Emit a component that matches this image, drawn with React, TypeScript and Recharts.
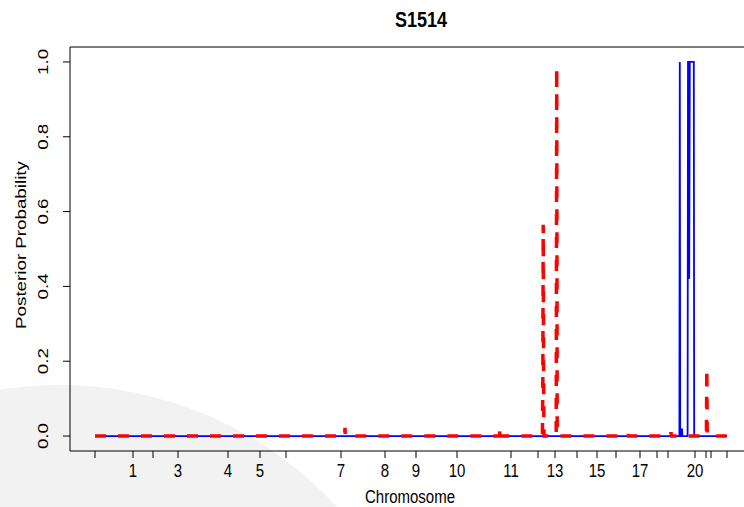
import { LineChart, Line, XAxis, YAxis, ReferenceLine } from 'recharts';

// genome index (1 unit ~ 1 px of the original plot)
const bluePos = [0, 584.4, 584.8, 585.2, 586.6, 587, 587.4, 592.6, 593, 593.8, 594.2, 594.8, 598.8, 599.2, 632];
const blueVal = [0, 0, 1, 0, 0, 0.02, 0, 0, 1, 1, 0.42, 1, 1, 0, 0];

const redPos = [
  0, 249.6, 250, 250.4, 404.6, 405, 405.4, 447.4, 447.8, 448.2, 448.6, 449,
  461.2, 461.7, 462.2, 532.6, 533, 533.4, 575.6, 576, 576.4, 611.4, 611.8, 612.2, 632,
];
const redVal = [
  0, 0, 0.022, 0, 0, 0.025, 0, 0, 0.135, 0.565, 0.14, 0,
  0, 0.985, 0, 0, 0.005, 0, 0, 0.01, 0, 0, 0.18, 0, 0,
];

const xTicks = [0, 38, 58, 83, 133, 165, 191, 246, 290, 321, 362, 416, 443, 460, 482, 502, 521, 545, 562, 573, 600, 611, 616, 632];
const xTickLabels = ['', '1', '', '3', '4', '5', '', '7', '8', '9', '10', '11', '', '13', '', '15', '', '17', '', '', '20', '', '', ''];
const yTicks = [0, 0.2, 0.4, 0.6, 0.8, 1.0];

const FONT = 'Liberation Sans, Arial, Helvetica, sans-serif';
// the source image is stretched vertically, text included
const STRETCH = 1.25;

const blueData = bluePos.map((x, i) => ({ x, v: blueVal[i] }));
const redData = redPos.map((x, i) => ({ x, v: redVal[i] }));

function XTick({ x, y, payload }: any) {
  const i = xTicks.indexOf(payload.value);
  const label = i >= 0 ? xTickLabels[i] : '';
  return (
    <text
      transform={`translate(${x}, ${y + 16.5}) scale(1, ${STRETCH})`}
      textAnchor="middle"
      fontSize={15}
      fontFamily={FONT}
      fill="#000"
    >
      {label}
    </text>
  );
}

function YTick({ y, payload }: any) {
  const bx = 47.5;
  return (
    <text
      transform={`translate(${bx}, ${y}) scale(1, ${STRETCH}) rotate(-90)`}
      textAnchor="middle"
      fontSize={15}
      fontFamily={FONT}
      fill="#000"
    >
      {payload.value.toFixed(1)}
    </text>
  );
}

export default function App() {
  return (
    <div
      style={{
        position: 'absolute',
        left: 0,
        top: 0,
        width: 744,
        height: 507,
        overflow: 'hidden',
        background: '#fff',
        fontFamily: FONT,
      }}
    >
      <div
        style={{
          position: 'absolute',
          left: -315,
          top: 385,
          width: 750,
          height: 750,
          borderRadius: '50%',
          background: '#f2f2f2',
        }}
      />
      <div style={{ position: 'absolute', left: 0, top: 0 }}>
        <LineChart width={744} height={507} margin={{ top: 47, right: 0, bottom: 0, left: 0 }}>
          <XAxis
            type="number"
            dataKey="x"
            domain={[-25, 649]}
            ticks={xTicks}
            interval={0}
            allowDataOverflow
            height={56}
            tickSize={7}
            axisLine={{ stroke: '#000' }}
            tickLine={{ stroke: '#000' }}
            tick={<XTick />}
          />
          <YAxis
            type="number"
            dataKey="v"
            domain={[-0.04, 1.04]}
            ticks={yTicks}
            interval={0}
            allowDataOverflow
            width={70}
            tickSize={7}
            axisLine={{ stroke: '#000' }}
            tickLine={{ stroke: '#000' }}
            tick={<YTick />}
          />
          <ReferenceLine y={1.04} stroke="#000" />
          <Line
            data={blueData}
            dataKey="v"
            type="linear"
            stroke="#0000ff"
            strokeWidth={1.8}
            dot={false}
            isAnimationActive={false}
          />
          <Line
            data={redData}
            dataKey="v"
            type="linear"
            stroke="#ff0000"
            strokeWidth={3.5}
            strokeDasharray="11 12"
            dot={false}
            isAnimationActive={false}
          />
        </LineChart>
      </div>
      <div
        style={{
          position: 'absolute',
          left: 421,
          top: 19,
          transform: `translate(-50%, -50%) scaleY(${STRETCH})`,
          fontWeight: 'bold',
          fontSize: 18,
          lineHeight: 1,
          whiteSpace: 'nowrap',
        }}
      >
        S1514
      </div>
      <div
        style={{
          position: 'absolute',
          left: 410,
          top: 496,
          transform: `translate(-50%, -50%) scaleY(${STRETCH})`,
          fontSize: 15,
          lineHeight: 1,
          whiteSpace: 'nowrap',
        }}
      >
        Chromosome
      </div>
      <div
        style={{
          position: 'absolute',
          left: 20,
          top: 245,
          transform: `translate(-50%, -50%) scaleY(${STRETCH}) rotate(-90deg)`,
          fontSize: 15,
          lineHeight: 1,
          whiteSpace: 'nowrap',
        }}
      >
        Posterior Probability
      </div>
    </div>
  );
}
